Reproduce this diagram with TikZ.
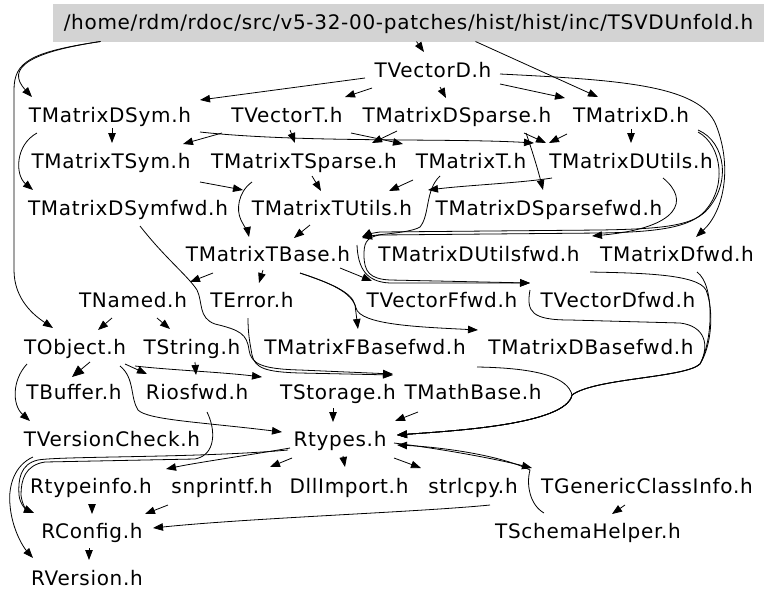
\documentclass[tikz,border=0pt]{standalone}
\usepackage{fontspec}
\setmainfont{DejaVu Sans}[LetterSpace=3.5]
\usetikzlibrary{calc,arrows.meta}
\definecolor{boxgray}{RGB}{211,211,211}
\begin{document}
\begin{tikzpicture}[x=1pt,y=-1pt,
  lbl/.style={inner sep=0pt, text height=14.6pt, text depth=0pt, font=\fontsize{20}{24}\selectfont},
  arr/.style={draw=black, line width=0.8pt, -{Triangle[length=10pt,width=7.5pt]}},
  bigarr/.style={draw=black, line width=0.8pt, -{Triangle[length=12pt,width=10pt]}}]
\useasboundingbox (0,0) rectangle (768,603);
% nodes
\node[lbl, fill=boxgray, minimum width=711pt, minimum height=38pt] (top) at (408.5,22.5) {/home/rdm/rdoc/src/v5-32-00-patches/hist/hist/inc/TSVDUnfold.h};
\node[lbl] (VD) at (433,70) {TVectorD.h};
\node[lbl] (MDSym) at (110,115) {TMatrixDSym.h};
\node[lbl] (VT) at (287,115) {TVectorT.h};
\node[lbl] (MDSp) at (457,115) {TMatrixDSparse.h};
\node[lbl] (MD) at (631,115) {TMatrixD.h};
\node[lbl] (MTSym) at (111,161) {TMatrixTSym.h};
\node[lbl] (MTSp) at (304,161) {TMatrixTSparse.h};
\node[lbl] (MT) at (471,161) {TMatrixT.h};
\node[lbl] (MDU) at (631,161) {TMatrixDUtils.h};
\node[lbl] (MDSymf) at (128,208) {TMatrixDSymfwd.h};
\node[lbl] (MTU) at (332,208) {TMatrixTUtils.h};
\node[lbl] (MDSpf) at (549,208) {TMatrixDSparsefwd.h};
\node[lbl] (MTB) at (268,254) {TMatrixTBase.h};
\node[lbl] (MDUf) at (479,254) {TMatrixDUtilsfwd.h};
\node[lbl] (MDf) at (677,254) {TMatrixDfwd.h};
\node[lbl] (TN) at (133,300) {TNamed.h};
\node[lbl] (TE) at (252,300) {TError.h};
\node[lbl] (VFf) at (442,300) {TVectorFfwd.h};
\node[lbl] (VDf) at (618,300) {TVectorDfwd.h};
\node[lbl] (TO) at (75,347) {TObject.h};
\node[lbl] (TS) at (192,347) {TString.h};
\node[lbl] (MFBf) at (365,347) {TMatrixFBasefwd.h};
\node[lbl] (MDBf) at (591,347) {TMatrixDBasefwd.h};
\node[lbl] (TB) at (74,392) {TBuffer.h};
\node[lbl] (RF) at (197,392) {Riosfwd.h};
\node[lbl] (TSt) at (338,392) {TStorage.h};
\node[lbl] (TMB) at (473,392) {TMathBase.h};
\node[lbl] (TVC) at (112,439) {TVersionCheck.h};
\node[lbl] (RT) at (340,439) {Rtypes.h};
\node[lbl] (RTI) at (91,486) {Rtypeinfo.h};
\node[lbl] (SN) at (222,486) {snprintf.h};
\node[lbl] (DLL) at (349,486) {DllImport.h};
\node[lbl] (SL) at (473,486) {strlcpy.h};
\node[lbl] (TGCI) at (647,486) {TGenericClassInfo.h};
\node[lbl] (RC) at (92,531) {RConfig.h};
\node[lbl] (TSH) at (588,531) {TSchemaHelper.h};
\node[lbl] (RV) at (87,578) {RVersion.h};
% edges from top
\draw[arr] ($(top)+(-308,19)$) .. controls (30,52) and (5,68) .. ($(MDSym)+(-78,-18)$);
\draw[arr] ($(top)+(-308,19)$) .. controls (30,52) and (14,62) .. (14,90) -- (14,270) .. controls (14,300) and (35,316) .. ($(TO)+(-22,-19)$);
\draw[arr] ($(top)+(8,19)$) -- ($(VD)+(-9,-18)$);
\draw[arr] ($(top)+(67,19)$) -- ($(MD)+(-33,-18)$);
% TVectorD
\draw[arr] ($(VD)+(-68,8)$) -- ($(MDSym)+(90,-15)$);
\draw[arr] ($(VD)+(-61,18)$) -- ($(VT)+(58,-18)$);
\draw[arr] ($(VD)+(7,17)$) -- ($(MDSp)+(-11,-17)$);
\draw[arr] ($(VD)+(67,14)$) -- ($(MD)+(-66,-17)$);
\draw[arr] ($(VD)+(67,4)$) .. controls (620,80) and (700,85) .. (716,125) .. controls (732,165) and (725,210) .. ($(MDf)+(19,-17)$);
% TMatrixD right side
\draw[arr] ($(MD)+(67,15)$) .. controls (726,142) and (732,185) .. (705,212) .. controls (690,226) and (660,229) .. (600,230) -- (380,232) .. controls (372,233) and (366,235) .. ($(MTB)+(94,-17)$);
\draw[arr] ($(MD)+(67,17)$) .. controls (722,145) and (728,188) .. (703,213) .. controls (688,227) and (660,232) .. (600,233) -- (380,235) .. controls (365,237) and (364,245) .. (364,255) .. controls (364,272) and (370,279) .. (390,280) -- ($(VDf)+(-88,-17)$);
\draw[arr] ($(MTB)+(89,-9)$) .. controls (358,268) and (366,282) .. (390,283) -- ($(VDf)+(-88,-17)$);
\draw[arr] ($(MDU)+(32,17)$) .. controls (690,200) and (680,228) .. ($(MDUf)+(113,-18)$);
% row 2 -> row 3
\draw[arr] ($(MDSym)+(2,13)$) -- ($(MTSym)+(1,-18)$);
\draw[arr] ($(VT)+(-65,18)$) -- ($(MTSym)+(72,-17)$);
\draw[arr] ($(VT)+(3,15)$) -- ($(MTSp)+(-9,-18)$);
\draw[arr] ($(VT)+(64,18)$) -- ($(MT)+(-68,-17)$);
\draw[arr] ($(MDSp)+(-60,16)$) -- ($(MTSp)+(68,-18)$);
\draw[arr] ($(MDSym)+(90,17)$) .. controls (300,143) and (450,138) .. ($(MDU)+(-97,-18)$);
\draw[arr] ($(MDSp)+(67,18)$) -- ($(MDU)+(-85,-18)$);
\draw[arr] ($(MD)+(-64,19)$) -- ($(MT)+(78,-18)$);
\draw[arr] ($(MD)+(0,14)$) -- ($(MDU)+(0,-18)$);
\draw[arr] ($(MDSp)+(69,18)$) .. controls (532,150) and (538,170) .. ($(MDSpf)+(-6,-18)$);
\draw[arr] ($(MDSym)+(-73,18)$) .. controls (15,145) and (15,175) .. ($(MDSymf)+(-95,-18)$);
% row 3 -> row 4/5
\draw[arr] ($(MTSym)+(89,21)$) -- ($(MTU)+(-89,-18)$);
\draw[arr] ($(MTSp)+(-52,21)$) .. controls (238,192) and (236,210) .. (241,220) .. controls (245,228) and (248,232) .. ($(MTB)+(-19,-17)$);
\draw[arr] ($(MTSp)+(8,15)$) -- ($(MTU)+(-11,-17)$);
\draw[arr] ($(MT)+(-58,19)$) -- ($(MTU)+(57,-17)$);
\draw[arr] ($(MDU)+(-79,17)$) .. controls (520,183) and (470,185) .. ($(MTU)+(96,-18)$);
\draw[arr] ($(MT)+(-31,15)$) .. controls (425,190) and (430,215) .. (420,227) .. controls (410,233) and (380,234) .. ($(MTB)+(94,-16)$);
\draw[arr] ($(MTU)+(-22,17)$) -- ($(MTB)+(26,-16)$);
% TMatrixTBase
\draw[arr] ($(MTB)+(-55,19)$) -- ($(TN)+(57,-18)$);
\draw[arr] ($(MTB)+(-5,16)$) -- ($(TE)+(7,-17)$);
\draw[arr] ($(MTB)+(72,14)$) -- ($(VFf)+(-70,-19)$);
\draw[arr] ($(MTB)+(32,19)$) .. controls (330,283) and (352,292) .. (355,305) -- ($(MFBf)+(-7,-18)$);
\draw[arr] ($(MTB)+(32,19)$) .. controls (330,283) and (352,292) .. (356,308) .. controls (360,325) and (420,327) .. ($(MDBf)+(-113,-17)$);
% TNamed, TError, fwd
\draw[arr] ($(TN)+(-21,18)$) -- ($(TO)+(23,-17)$);
\draw[arr] ($(TN)+(24,18)$) -- ($(TS)+(-22,-18)$);
\draw[arr] ($(MDSymf)+(12,18)$) .. controls (165,258) and (188,276) .. (197,290) .. controls (203,302) and (198,318) .. (215,324) .. controls (240,330) and (247,334) .. (249,350) .. controls (251,364) and (262,369) .. (300,370) -- ($(TMB)+(-80,-18)$);
\draw[arr] ($(TE)+(-4,18)$) .. controls (248,335) and (250,343) .. (252,355) .. controls (255,368) and (265,372) .. (300,373) -- ($(TMB)+(-80,-17)$);
% TObject
\draw[bigarr] ($(TO)+(15,15)$) -- ($(TB)+(-2,-15)$);
\draw[arr] ($(TO)+(-48,17)$) .. controls (12,380) and (12,405) .. ($(TVC)+(-82,-18)$);
\draw[arr] ($(TO)+(50,17)$) -- ($(RF)+(-50,-18)$);
\draw[arr] ($(TO)+(60,19)$) .. controls (170,370) and (220,372) .. ($(TSt)+(-76,-15)$);
\draw[arr] ($(TO)+(45,19)$) .. controls (135,378) and (130,398) .. (138,410) .. controls (148,420) and (200,422) .. ($(RT)+(-58,-7)$);
\draw[arr] ($(TS)+(3,15)$) -- ($(RF)+(-1,-17)$);
\draw[arr] ($(TSt)+(-5,16)$) -- ($(RT)+(-7,-17)$);
\draw[arr] ($(TMB)+(-55,20)$) -- ($(RT)+(55,-18)$);
% right bracket into Rtypes
\draw[arr] ($(MDBf)+(-114,20)$) .. controls (540,368) and (568,378) .. (572,395) .. controls (566,425) and (450,431) .. ($(RT)+(57,-4)$);
\draw[arr] ($(MDf)+(20,18)$) .. controls (715,285) and (713,340) .. (700,364) .. controls (685,378) and (595,378) .. (572,395) .. controls (566,425) and (450,431) .. ($(RT)+(57,-4)$);
\draw[arr] ($(MDUf)+(111,18)$) .. controls (640,273) and (698,274) .. (706,290) .. controls (714,310) and (712,345) .. (700,364) .. controls (685,378) and (595,378) .. (572,395) .. controls (566,425) and (450,431) .. ($(RT)+(57,-4)$);
\draw[arr] ($(VDf)+(-88,-10)$) .. controls (526,312) and (532,320) .. (570,320) -- (680,323) .. controls (705,326) and (710,345) .. (700,364) .. controls (685,378) and (595,378) .. (572,395) .. controls (566,425) and (450,431) .. ($(RT)+(57,-4)$);
% Rtypes and below
\draw[arr] ($(RT)+(-50,9)$) .. controls (250,455) and (200,462) .. ($(RTI)+(75,-17)$);
\draw[arr] ($(RT)+(-52,11)$) .. controls (200,458) and (60,456) .. (38,460) .. controls (20,464) and (18,480) .. (19,495) .. controls (20,505) and (27,510) .. ($(RC)+(-58,-18)$);
\draw[arr] ($(RF)+(10,20)$) .. controls (216,430) and (216,455) .. (195,459) -- (45,462) .. controls (25,465) and (21,480) .. (21,495) .. controls (22,505) and (27,510) .. ($(RC)+(-58,-18)$);
\draw[arr] ($(RT)+(-48,19)$) -- ($(SN)+(48,-19)$);
\draw[arr] ($(RT)+(3,17)$) -- ($(DLL)+(-4,-19)$);
\draw[arr] ($(RT)+(54,19)$) -- ($(SL)+(-52,-18)$);
\draw[arr] ($(RT)+(54,4)$) .. controls (450,450) and (500,460) .. ($(TGCI)+(-115,-18)$);
\draw[arr] ($(TSH)+(-44,-18)$) .. controls (530,505) and (526,485) .. (530,470) .. controls (500,455) and (440,447) .. ($(RT)+(57,6)$);
\draw[arr] ($(TGCI)+(-22,19)$) -- ($(TSH)+(24,-17)$);
\draw[arr] ($(TVC)+(-79,18)$) .. controls (15,465) and (8,485) .. (10,505) .. controls (12,530) and (24,548) .. ($(RV)+(-54,-20)$);
\draw[arr] ($(RTI)+(1,18)$) -- ($(RC)+(0,-17)$);
\draw[arr] ($(SN)+(-54,19)$) -- ($(RC)+(53,-17)$);
\draw[arr] ($(SL)+(17,19)$) .. controls (420,512) and (250,518) .. ($(RC)+(61,-3)$);
\draw[arr] ($(RC)+(-3,17)$) -- ($(RV)+(2,-18)$);
\end{tikzpicture}
\end{document}
